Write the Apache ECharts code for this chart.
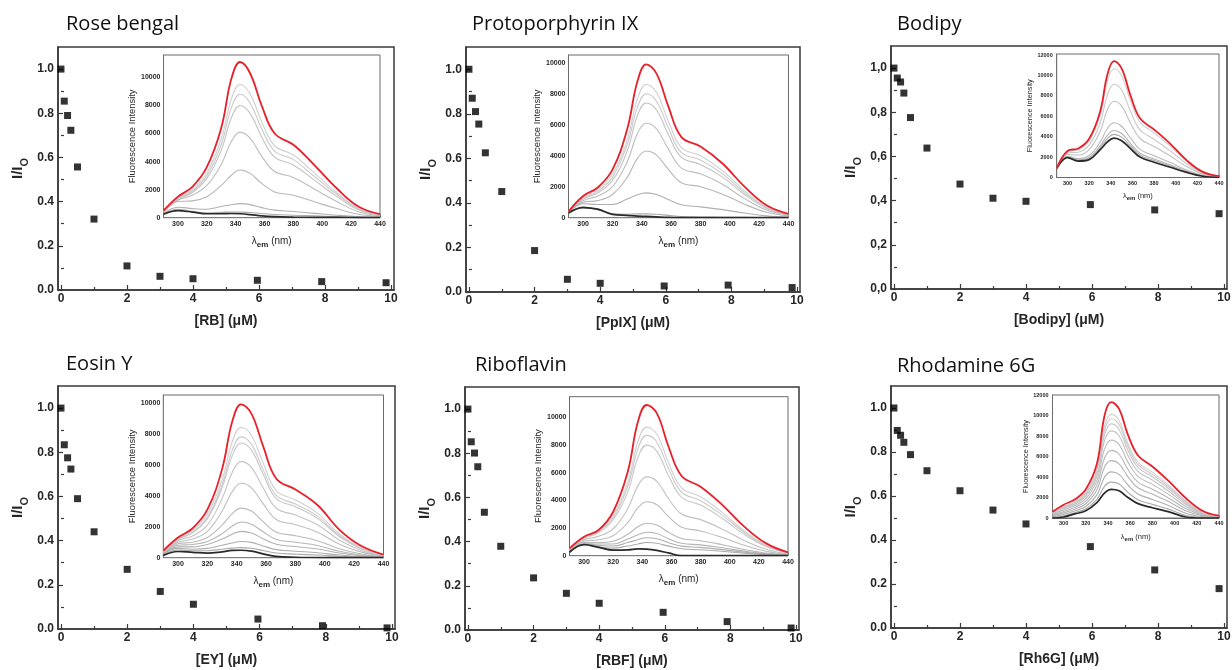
<!DOCTYPE html>
<html>
<head>
<meta charset="utf-8">
<script src="https://cdn.jsdelivr.net/npm/echarts@6/dist/echarts.min.js"></script>
<style>
  html, body { margin: 0; padding: 0; background: #ffffff; }
  #chart { width: 1232px; height: 670px; }
</style>
</head>
<body>
<div id="chart"></div>
<script>
// ---- Quenching ratios I/I0 against quencher concentration (µM) ----
const concentration = [0, 0.1, 0.2, 0.3, 0.5, 1, 2, 3, 4, 5.95, 7.9, 9.85];
const ratioRB     = [1.0, 0.855, 0.79, 0.723, 0.557, 0.321, 0.109, 0.062, 0.051, 0.044, 0.038, 0.033];
const ratioPpIX   = [1.0, 0.87, 0.81, 0.754, 0.625, 0.451, 0.186, 0.057, 0.039, 0.027, 0.031, 0.02];
const ratioBodipy = [1.0, 0.955, 0.937, 0.887, 0.776, 0.638, 0.475, 0.411, 0.397, 0.382, 0.358, 0.341];
const ratioEY     = [1.0, 0.834, 0.775, 0.724, 0.59, 0.44, 0.27, 0.17, 0.112, 0.045, 0.015, 0.005];
const ratioRBF    = [1.0, 0.852, 0.801, 0.739, 0.533, 0.379, 0.236, 0.166, 0.121, 0.08, 0.038, 0.009];
const ratioRh6G   = [1.0, 0.898, 0.876, 0.844, 0.788, 0.715, 0.624, 0.536, 0.473, 0.37, 0.264, 0.179];

// ---- Emission spectra (fluorescence intensity vs λem, nm) ----
const wavelength = [290, 300, 310, 320, 330, 337, 343, 350, 358, 367, 380, 395, 410, 425, 440];

const rbFree = [500, 1500, 2200, 3600, 6400, 9900, 11100, 10300, 8000, 6000, 5200, 3700, 2100, 800, 260];
const rbQuenched = [
  [480, 1400, 2000, 3200, 5600, 8450, 9500, 8830, 6840, 5130, 4470, 3140, 1800, 670, 220],
  [470, 1350, 1900, 3000, 5200, 7830, 8800, 8180, 6340, 4750, 4140, 2900, 1670, 620, 200],
  [460, 1300, 1800, 2800, 4800, 7120, 8000, 7440, 5760, 4320, 3760, 2640, 1520, 560, 190],
  [430, 1250, 1600, 2300, 3800, 5430, 6100, 5670, 4390, 3290, 2870, 2010, 1160, 430, 150],
  [380, 1150, 1200, 1500, 2300, 3030, 3400, 3160, 2450, 1840, 1600, 1120, 650, 240, 90],
  [300, 750, 650, 600, 800, 920, 1000, 930, 720, 540, 440, 310, 180, 80, 40],
  [250, 600, 450, 350, 380, 410, 400, 370, 300, 230, 180, 130, 80, 40, 20]
];
const rbDye = [250, 500, 400, 280, 280, 300, 280, 220, 130, 70, 40, 30, 20, 10, 5];

const ppixFree = [400, 1400, 1950, 3100, 5700, 8800, 9900, 9300, 7200, 5200, 4600, 3500, 2000, 800, 250];
const ppixQuenched = [
  [400, 1300, 1800, 2800, 5000, 7650, 8600, 8080, 6250, 4520, 4000, 3040, 1740, 700, 220],
  [390, 1250, 1700, 2600, 4700, 7120, 8000, 7520, 5820, 4200, 3720, 2830, 1620, 650, 200],
  [380, 1200, 1600, 2400, 4300, 6590, 7400, 6950, 5380, 3890, 3440, 2620, 1500, 600, 190],
  [370, 1100, 1400, 2000, 3600, 5430, 6100, 5730, 4440, 3200, 2830, 2160, 1230, 490, 160],
  [350, 1000, 1100, 1500, 2600, 3830, 4300, 4040, 3130, 2260, 2000, 1520, 870, 350, 110],
  [300, 900, 850, 850, 1200, 1480, 1600, 1500, 1170, 840, 700, 520, 300, 120, 40],
  [280, 700, 500, 250, 220, 250, 250, 220, 150, 80, 50, 30, 20, 10, 5]
];
const ppixDye = [300, 650, 550, 220, 150, 100, 80, 50, 20, 5, 0, 0, 0, 0, 0];

const bodipyFree = [900, 2600, 2850, 3800, 6400, 10150, 11400, 10700, 8100, 5800, 4700, 3300, 1700, 550, 130];
const bodipyQuenched = [
  [900, 2540, 2730, 3600, 6030, 9480, 10650, 9990, 7580, 5420, 4380, 3070, 1580, 510, 120],
  [900, 2410, 2480, 3190, 5290, 8150, 9140, 8570, 6530, 4660, 3740, 2610, 1340, 420, 90],
  [900, 2260, 2200, 2730, 4480, 6690, 7470, 7010, 5370, 3820, 3040, 2100, 1080, 330, 60],
  [900, 2080, 1850, 2160, 3440, 4830, 5360, 5020, 3900, 2760, 2140, 1460, 740, 210, 30],
  [900, 2020, 1730, 1960, 3070, 4160, 4610, 4310, 3380, 2380, 1820, 1230, 620, 160, 10],
  [900, 1980, 1660, 1850, 2890, 3830, 4230, 3960, 3110, 2190, 1660, 1120, 560, 140, 5]
];
const bodipyDye = [900, 1950, 1600, 1750, 2700, 3500, 3850, 3600, 2850, 2000, 1500, 1000, 500, 120, 0];

const eyFree = [450, 1300, 1900, 3100, 5700, 8800, 9900, 9300, 7200, 5100, 4400, 3400, 1800, 750, 200];
const eyQuenched = [
  [440, 1250, 1750, 2800, 5000, 7480, 8400, 7900, 6110, 4330, 3730, 2880, 1530, 640, 170],
  [430, 1200, 1650, 2600, 4700, 6940, 7800, 7330, 5670, 4020, 3460, 2680, 1420, 590, 160],
  [420, 1150, 1600, 2500, 4500, 6590, 7400, 6960, 5380, 3810, 3290, 2540, 1350, 560, 150],
  [400, 1100, 1400, 2100, 3800, 5520, 6200, 5830, 4510, 3190, 2750, 2130, 1130, 470, 120],
  [370, 1000, 1200, 1700, 3000, 4270, 4800, 4510, 3490, 2470, 2130, 1650, 870, 360, 100],
  [340, 900, 1000, 1300, 2100, 2850, 3200, 3010, 2330, 1650, 1420, 1100, 580, 240, 70],
  [300, 800, 850, 1050, 1550, 2050, 2300, 2160, 1670, 1180, 1000, 790, 420, 170, 50],
  [270, 700, 700, 850, 1200, 1520, 1700, 1600, 1230, 870, 720, 560, 300, 130, 40],
  [230, 600, 550, 600, 800, 950, 1050, 990, 760, 520, 420, 320, 170, 70, 25],
  [200, 500, 450, 450, 550, 620, 650, 610, 460, 300, 230, 170, 90, 40, 15]
];
const eyDye = [150, 400, 350, 300, 380, 470, 480, 420, 250, 80, 30, 10, 0, 0, 0];

const rbfFree = [530, 1370, 1860, 3180, 6070, 9700, 10900, 10290, 7880, 5760, 4990, 3660, 2100, 890, 240];
const rbfQuenched = [
  [480, 1350, 1850, 2900, 5300, 8280, 9300, 8780, 6720, 4910, 4260, 3120, 1790, 760, 200],
  [470, 1300, 1750, 2750, 5000, 7740, 8700, 8210, 6290, 4590, 3980, 2920, 1680, 710, 190],
  [460, 1250, 1650, 2600, 4600, 7120, 8000, 7550, 5780, 4220, 3660, 2690, 1540, 660, 180],
  [420, 1150, 1400, 1950, 3400, 5070, 5700, 5380, 4120, 3010, 2610, 1920, 1100, 470, 130],
  [380, 1050, 1150, 1450, 2400, 3470, 3900, 3680, 2820, 2060, 1790, 1310, 750, 320, 90],
  [330, 950, 950, 1050, 1550, 2100, 2350, 2220, 1700, 1240, 1080, 790, 450, 190, 50],
  [300, 880, 850, 850, 1200, 1520, 1700, 1600, 1230, 900, 780, 570, 330, 140, 40],
  [280, 850, 750, 700, 950, 1160, 1300, 1230, 940, 690, 600, 440, 250, 110, 30],
  [260, 820, 650, 550, 700, 850, 950, 900, 690, 500, 430, 320, 180, 80, 20]
];
const rbfDye = [250, 800, 600, 400, 420, 500, 480, 380, 200, 0, 0, 0, 0, 0, 0];

const rh6gFree = [600, 1300, 1800, 2800, 5300, 10050, 11300, 10640, 8110, 6100, 5030, 3570, 1950, 710, 230];
const rh6gQuenched = [
  [520, 1130, 1600, 2510, 4770, 9000, 10110, 9520, 7250, 5440, 4470, 3150, 1690, 610, 200],
  [490, 1070, 1530, 2400, 4580, 8620, 9690, 9120, 6950, 5210, 4260, 3010, 1600, 580, 190],
  [450, 1000, 1450, 2280, 4350, 8170, 9180, 8640, 6580, 4930, 4020, 2830, 1490, 530, 170],
  [400, 900, 1340, 2110, 4050, 7570, 8500, 8000, 6090, 4550, 3700, 2590, 1340, 480, 150],
  [340, 780, 1190, 1890, 3650, 6770, 7600, 7160, 5450, 4060, 3280, 2280, 1150, 400, 130],
  [270, 640, 1030, 1640, 3200, 5880, 6600, 6220, 4730, 3500, 2800, 1930, 930, 320, 100],
  [200, 500, 860, 1390, 2750, 4990, 5600, 5290, 4020, 2950, 2330, 1580, 710, 230, 80],
  [120, 340, 680, 1120, 2260, 4010, 4500, 4250, 3220, 2340, 1810, 1190, 470, 140, 50],
  [50, 200, 520, 870, 1810, 3110, 3500, 3310, 2500, 1790, 1330, 840, 250, 60, 20]
];
const rh6gDye = [0, 100, 400, 700, 1500, 2450, 2800, 2650, 2000, 1400, 1000, 600, 100, 0, 0];

// ---- Text and tick values ----
const panelTitles = ['Rose bengal', 'Protoporphyrin IX', 'Bodipy', 'Eosin Y', 'Riboflavin', 'Rhodamine 6G'];
const concLabels  = ['[RB] (\u03bcM)', '[PpIX] (\u03bcM)', '[Bodipy] (\u03bcM)', '[EY] (\u03bcM)', '[RBF] (\u03bcM)', '[Rh6G] (\u03bcM)'];
const concTicks      = [0, 2, 4, 6, 8, 10];
const concMinorTicks = [1, 3, 5, 7, 9];
const ratioTicks      = [0, 0.2, 0.4, 0.6, 0.8, 1.0];
const ratioMinorTicks = [0.1, 0.3, 0.5, 0.7, 0.9];
const lambdaTicks      = [300, 320, 340, 360, 380, 400, 420, 440];
const lambdaMinorTicks = [290, 310, 330, 350, 370, 390, 410, 430];
const intensityTicks10k      = [0, 2000, 4000, 6000, 8000, 10000];
const intensityMinorTicks10k = [1000, 3000, 5000, 7000, 9000, 11000];
const intensityTicks12k      = [0, 2000, 4000, 6000, 8000, 10000, 12000];
const intensityMinorTicks12k = [1000, 3000, 5000, 7000, 9000, 11000];

// ---- Panel wiring (which arrays go in which panel) ----
const panelData = [
  { ratio: ratioRB,     free: rbFree,     quenched: rbQuenched,     dye: rbDye,     comma: false, iTicks: intensityTicks10k, iMinor: intensityMinorTicks10k },
  { ratio: ratioPpIX,   free: ppixFree,   quenched: ppixQuenched,   dye: ppixDye,   comma: false, iTicks: intensityTicks10k, iMinor: intensityMinorTicks10k },
  { ratio: ratioBodipy, free: bodipyFree, quenched: bodipyQuenched, dye: bodipyDye, comma: true,  iTicks: intensityTicks12k, iMinor: intensityMinorTicks12k },
  { ratio: ratioEY,     free: eyFree,     quenched: eyQuenched,     dye: eyDye,     comma: false, iTicks: intensityTicks10k, iMinor: intensityMinorTicks10k },
  { ratio: ratioRBF,    free: rbfFree,    quenched: rbfQuenched,    dye: rbfDye,    comma: false, iTicks: intensityTicks10k, iMinor: intensityMinorTicks10k },
  { ratio: ratioRh6G,   free: rh6gFree,   quenched: rh6gQuenched,   dye: rh6gDye,   comma: false, iTicks: intensityTicks12k, iMinor: intensityMinorTicks12k }
];

// ---- Layout: main plot boxes, inset boxes, title anchors ----
const layouts = [
  { title: [66, 14],    main: [58, 47, 336, 243],   inset: [163.5, 55, 216.5, 162.7],   iMax: 11600, small: false },
  { title: [472, 14],   main: [466, 47, 334, 245],  inset: [568.5, 55, 220, 162.7],     iMax: 10500, small: false },
  { title: [897, 14],   main: [891, 46, 336, 243],  inset: [1056.7, 54, 162.3, 123.5],  iMax: 12100, small: true },
  { title: [66, 354],   main: [58, 386, 337, 243],  inset: [163.3, 395, 220.2, 162.7],  iMax: 10500, small: false },
  { title: [475, 355],  main: [465, 387, 334, 243], inset: [569.5, 396.7, 218.5, 159],  iMax: 11500, small: false },
  { title: [897, 356],  main: [891, 386, 336, 242], inset: [1052.5, 395, 166.5, 123],   iMax: 12000, small: true }
];

const FONT = '"Liberation Sans", Arial, Helvetica, sans-serif';
const FRAME = '#3a3a3a';
const INSET_FRAME = '#6b6b6b';
const TEXT = '#262626';

function axisPair(gridIndex, c) {
  const base = {
    gridIndex, type: 'value', min: c.min, max: c.max, position: c.position,
    splitLine: { show: false }, splitArea: { show: false },
    minorTick: { show: false }, minorSplitLine: { show: false }
  };
  const major = Object.assign({}, base, {
    axisLine: { show: true, onZero: false, lineStyle: { color: c.color, width: c.lineWidth } },
    axisTick: { show: true, inside: true, length: c.majorLen, customValues: c.major,
                lineStyle: { color: c.color, width: c.tickWidth } },
    axisLabel: { show: true, customValues: c.major, margin: c.margin, fontFamily: FONT,
                 fontSize: c.fontSize, fontWeight: 'bold', color: TEXT, formatter: c.formatter },
    name: c.name, nameLocation: 'middle', nameGap: c.nameGap, nameTextStyle: c.nameStyle
  });
  const minor = Object.assign({}, base, {
    axisLine: { show: false },
    axisLabel: { show: false },
    axisTick: { show: true, inside: true, length: c.minorLen, customValues: c.minor,
                lineStyle: { color: c.color, width: c.tickWidth } }
  });
  return [major, minor];
}

const option = {
  animation: false,
  backgroundColor: '#ffffff',
  title: [], grid: [], xAxis: [], yAxis: [], series: []
};

panelData.forEach((d, i) => {
  const L = layouts[i];

  // panel title
  option.title.push({
    text: panelTitles[i], left: L.title[0], top: L.title[1], padding: 0,
    textStyle: { fontFamily: '"Open Sans", "Noto Sans", sans-serif', fontSize: 20, fontWeight: 'normal', color: '#111111' }
  });

  // ---- main quenching plot ----
  const gMain = option.grid.length;
  option.grid.push({
    left: L.main[0], top: L.main[1], width: L.main[2], height: L.main[3],
    show: true, borderColor: FRAME, borderWidth: 1.5, backgroundColor: 'transparent',
    containLabel: false, outerBoundsMode: 'none'
  });
  const xMain = option.xAxis.length;
  option.xAxis.push(...axisPair(gMain, {
    min: -0.09, max: 10.09, position: 'bottom', color: FRAME, lineWidth: 1.5, tickWidth: 1.2,
    major: concTicks, minor: concMinorTicks, majorLen: 5, minorLen: 3,
    margin: 3, fontSize: 12, formatter: v => String(Math.round(v)),
    name: concLabels[i], nameGap: 24,
    nameStyle: { fontFamily: FONT, fontSize: 14, fontWeight: 'bold', color: TEXT }
  }));
  const yMain = option.yAxis.length;
  option.yAxis.push(...axisPair(gMain, {
    min: 0, max: 1.1, position: 'left', color: FRAME, lineWidth: 1.5, tickWidth: 1.2,
    major: ratioTicks, minor: ratioMinorTicks, majorLen: 5, minorLen: 3,
    margin: 4, fontSize: 12,
    formatter: v => d.comma ? v.toFixed(1).replace('.', ',') : v.toFixed(1),
    name: '{b|I/I}{o|O}', nameGap: 28,
    nameStyle: {
      rich: {
        b: { fontFamily: FONT, fontSize: 15, fontWeight: 'bold', color: TEXT, lineHeight: 24, verticalAlign: 'middle' },
        o: { fontFamily: FONT, fontSize: 11, fontWeight: 'bold', color: TEXT, lineHeight: 11, verticalAlign: 'bottom' }
      }
    }
  }));
  option.series.push({
    type: 'scatter', xAxisIndex: xMain, yAxisIndex: yMain,
    symbol: 'rect', symbolSize: 7, itemStyle: { color: '#000000' },
    data: concentration.map((c, k) => [c, d.ratio[k]]), z: 3
  });

  // ---- inset: emission spectra ----
  const small = L.small;
  const gIn = option.grid.length;
  option.grid.push({
    left: L.inset[0], top: L.inset[1], width: L.inset[2], height: L.inset[3],
    show: true, borderColor: INSET_FRAME, borderWidth: 1, backgroundColor: '#ffffff',
    containLabel: false, outerBoundsMode: 'none', z: 4
  });
  const xIn = option.xAxis.length;
  option.xAxis.push(...axisPair(gIn, {
    min: 290, max: 440, position: 'bottom', color: INSET_FRAME, lineWidth: 1, tickWidth: 0.8,
    major: lambdaTicks, minor: lambdaMinorTicks, majorLen: small ? 2.5 : 3.5, minorLen: small ? 1.5 : 2,
    margin: small ? 2.5 : 3, fontSize: small ? 5.5 : 7, formatter: v => String(v),
    name: '{l|\u03bb}{s|em}{l| (nm)}', nameGap: small ? 13 : 16,
    nameStyle: {
      rich: {
        l: { fontFamily: FONT, fontSize: small ? 7.5 : 10, color: TEXT, lineHeight: small ? 11 : 15, verticalAlign: 'middle' },
        s: { fontFamily: FONT, fontSize: small ? 6 : 8, fontWeight: 'bold', color: TEXT, lineHeight: small ? 6 : 8, verticalAlign: 'bottom' }
      }
    }
  }));
  const yIn = option.yAxis.length;
  option.yAxis.push(...axisPair(gIn, {
    min: 0, max: L.iMax, position: 'left', color: INSET_FRAME, lineWidth: 1, tickWidth: 0.8,
    major: d.iTicks, minor: d.iMinor, majorLen: small ? 2.5 : 3.5, minorLen: small ? 1.5 : 2,
    margin: small ? 4 : 3, fontSize: small ? 5.5 : 7, formatter: v => String(v),
    name: 'Fluorescence Intensity', nameGap: small ? 19 : 25,
    nameStyle: { fontFamily: FONT, fontSize: small ? 7.3 : 9.4, color: TEXT }
  }));

  const n = d.quenched.length;
  d.quenched.forEach((curve, k) => {
    const shade = Math.round(208 - 38 * (n > 1 ? k / (n - 1) : 0));
    option.series.push({
      type: 'line', xAxisIndex: xIn, yAxisIndex: yIn, smooth: 0.4, showSymbol: false, silent: true,
      lineStyle: { color: `rgb(${shade},${shade},${shade})`, width: 1.1 },
      data: wavelength.map((w, j) => [w, curve[j]]), z: 5
    });
  });
  option.series.push({
    type: 'line', xAxisIndex: xIn, yAxisIndex: yIn, smooth: 0.4, showSymbol: false, silent: true,
    lineStyle: { color: '#2a2a2a', width: 1.7 },
    data: wavelength.map((w, j) => [w, d.dye[j]]), z: 6
  });
  option.series.push({
    type: 'line', xAxisIndex: xIn, yAxisIndex: yIn, smooth: 0.4, showSymbol: false, silent: true,
    lineStyle: { color: '#e8202a', width: 1.8 },
    data: wavelength.map((w, j) => [w, d.free[j]]), z: 7
  });
});

const chart = echarts.init(document.getElementById('chart'), null, { renderer: 'canvas', width: 1232, height: 670 });
chart.setOption(option);
</script>
</body>
</html>
